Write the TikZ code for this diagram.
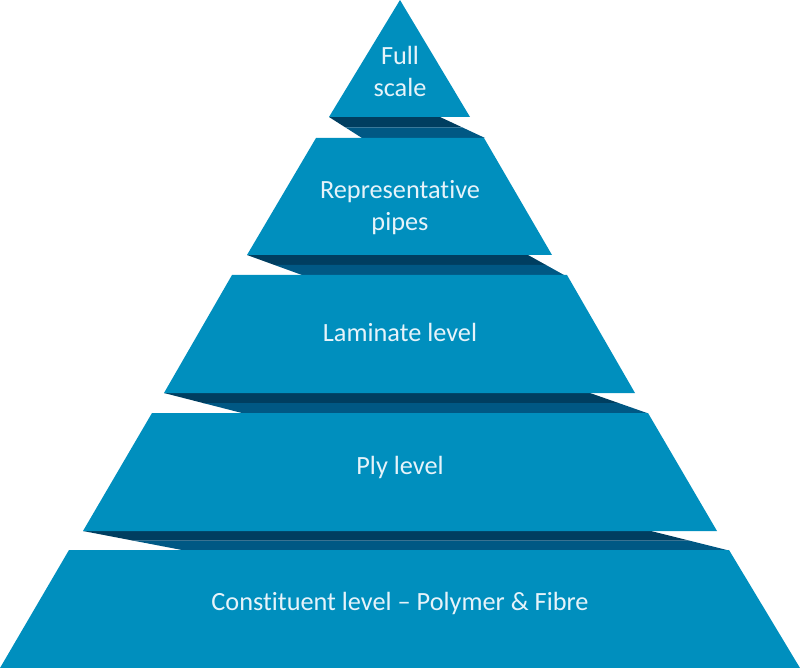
\documentclass[tikz,border=0pt]{standalone}
\usepackage{fontspec}
\setmainfont{Carlito}[Ligatures={NoCommon}]
\usetikzlibrary{calc}
\definecolor{layerblue}{RGB}{0,143,190}
\definecolor{banddark}{RGB}{0,62,96}
\definecolor{bandmid}{RGB}{0,88,132}
\definecolor{lvlwhite}{RGB}{230,243,250}
\newcommand{\pyrband}[4]{%
  % #1 top-left, #2 top-right, #3 bottom-right, #4 bottom-left
  \fill[banddark] #1 -- #2 -- ($#2!0.5!#3$) -- ($#1!0.5!#4$) -- cycle;
  \fill[bandmid] ($#1!0.5!#4$) -- ($#2!0.5!#3$) -- #3 -- #4 -- cycle;
}
\tikzset{
  layer/.style={fill=layerblue},
  lvltext/.style={text=lvlwhite, font=\fontsize{26.3}{32}\selectfont, align=center, inner sep=0pt}
}
\begin{document}
\begin{tikzpicture}[x=1pt,y=-1pt]
\useasboundingbox (0,0) rectangle (800,668);
% shadow bands
\pyrband{(329,117)}{(440,117)}{(485,138)}{(362,138)}
\pyrband{(247,255)}{(528,255)}{(564,275)}{(302,275)}
\pyrband{(164,393)}{(590,393)}{(647,413)}{(242,413)}
\pyrband{(83,531)}{(651,531)}{(727,550)}{(182,550)}
% layers
\fill[layer] (400,0) -- (470,117) -- (329,117) -- cycle;
\fill[layer] (316,138) -- (484,138) -- (552,255) -- (247,255) -- cycle;
\fill[layer] (232,275) -- (567,275) -- (635,393) -- (164,393) -- cycle;
\fill[layer] (152,413) -- (648,413) -- (717,531) -- (83,531) -- cycle;
\fill[layer] (69,550) -- (729,550) -- (800,668) -- (0,668) -- cycle;
% labels
\node[lvltext] (full) at (400,71) {Full\\scale};
\node[lvltext] (pipes) at (400,208) {Representative\\pipes};
\node[lvltext] (laminate) at (400,332) {Laminate level};
\node[lvltext] (ply) at (400,467) {Ply level};
\node[lvltext] (constituent) at (400,603) {Constituent level – Polymer \& Fibre};
\end{tikzpicture}
\end{document}
